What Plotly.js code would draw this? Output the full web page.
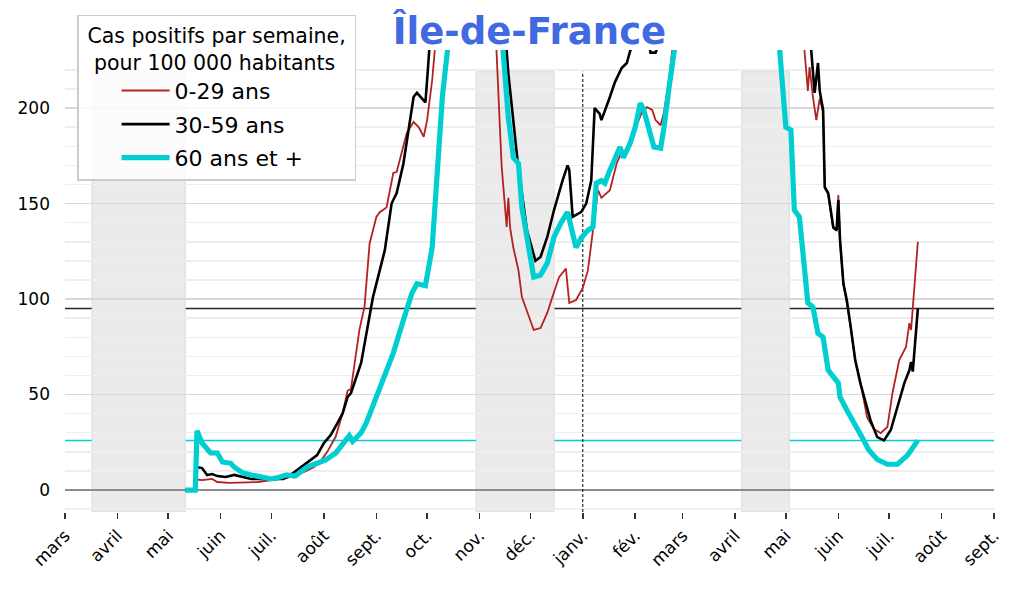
<!DOCTYPE html>
<html>
<head>
<meta charset="utf-8">
<script src="https://cdn.plot.ly/plotly-3.0.1.min.js"></script>
<style>html,body{margin:0;padding:0;background:#fff;}#chart{width:1023px;height:589px;}</style>
</head>
<body>
<div id="chart"></div>
<script>
// ---- Data (weekly positive cases per 100 000 inhabitants, Île-de-France) ----
const seriesNames = ['0-29 ans', '30-59 ans', '60 ans et +'];

const redDates = ['2020-05-11','2020-05-17','2020-05-18','2020-05-21','2020-05-27','2020-05-30','2020-06-06','2020-06-13','2020-06-23','2020-07-01','2020-07-10','2020-07-20','2020-07-26','2020-07-30','2020-08-03','2020-08-08','2020-08-12','2020-08-15','2020-08-17','2020-08-22','2020-08-25','2020-08-28','2020-09-01','2020-09-03','2020-09-07','2020-09-11','2020-09-13','2020-09-19','2020-09-23','2020-09-26','2020-09-29','2020-10-01','2020-10-04','2020-10-06','2020-10-12','2020-10-20','2020-10-27','2020-11-03','2020-11-08','2020-11-11','2020-11-14','2020-11-17','2020-11-18','2020-11-19','2020-11-21','2020-11-24','2020-11-26','2020-11-29','2020-12-03','2020-12-07','2020-12-11','2020-12-14','2020-12-18','2020-12-22','2020-12-24','2020-12-28','2021-01-01','2021-01-04','2021-01-06','2021-01-10','2021-01-12','2021-01-17','2021-01-21','2021-01-23','2021-01-27','2021-01-30','2021-02-02','2021-02-05','2021-02-08','2021-02-11','2021-02-13','2021-02-16','2021-02-18','2021-02-21','2021-02-24','2021-03-05','2021-03-15','2021-03-25','2021-04-01','2021-04-10','2021-04-20','2021-05-01','2021-05-08','2021-05-12','2021-05-14','2021-05-15','2021-05-17','2021-05-19','2021-05-21','2021-05-23','2021-05-24','2021-05-26','2021-05-29','2021-05-31','2021-06-01','2021-06-02','2021-06-04','2021-06-06','2021-06-08','2021-06-11','2021-06-14','2021-06-18','2021-06-22','2021-06-26','2021-06-30','2021-07-03','2021-07-07','2021-07-11','2021-07-13','2021-07-14','2021-07-18'];
const redValues = [0,0,5.5,5.2,5.8,4.2,3.7,3.8,4.2,5.2,6.3,9.4,12,15,20,28,40,52,53,84,96,129,143,145.5,148,166,166.5,187,192.7,190,185,193.7,214.7,235,330,520,690,520,330,230,170,137.7,153,137.7,126.7,115,101,94,83.8,84.8,92.7,101,111.5,116,98,99.5,105.8,115,129,157,153,157,171,175,178,185,192,198,200.5,199,193.7,191,198,215,240,330,450,620,720,600,420,300,260,230,209,221.5,205.8,193.7,205,198,158,155,137,136,154.5,130,108,98,87,68,57,38,32,29.8,33,50.8,68,74.9,87.4,83.8,130];

const blackDates = ['2020-05-11','2020-05-17','2020-05-18','2020-05-21','2020-05-24','2020-05-27','2020-05-30','2020-06-04','2020-06-09','2020-06-14','2020-06-19','2020-07-01','2020-07-08','2020-07-14','2020-07-20','2020-07-24','2020-07-28','2020-08-01','2020-08-05','2020-08-09','2020-08-12','2020-08-15','2020-08-17','2020-08-23','2020-08-27','2020-08-30','2020-09-03','2020-09-06','2020-09-10','2020-09-13','2020-09-17','2020-09-20','2020-09-23','2020-09-25','2020-09-30','2020-10-01','2020-10-03','2020-10-10','2020-10-20','2020-10-28','2020-11-05','2020-11-12','2020-11-18','2020-11-19','2020-11-23','2020-11-25','2020-11-29','2020-12-04','2020-12-07','2020-12-11','2020-12-15','2020-12-20','2020-12-23','2020-12-24','2020-12-26','2020-12-31','2021-01-03','2021-01-06','2021-01-08','2021-01-11','2021-01-12','2021-01-17','2021-01-20','2021-01-24','2021-01-27','2021-01-29','2021-02-03','2021-02-08','2021-02-10','2021-02-13','2021-02-16','2021-02-20','2021-03-01','2021-03-15','2021-03-28','2021-04-03','2021-04-12','2021-04-22','2021-05-05','2021-05-16','2021-05-18','2021-05-20','2021-05-21','2021-05-23','2021-05-24','2021-05-26','2021-05-29','2021-05-31','2021-06-01','2021-06-02','2021-06-04','2021-06-06','2021-06-08','2021-06-11','2021-06-14','2021-06-20','2021-06-24','2021-06-28','2021-07-02','2021-07-06','2021-07-10','2021-07-13','2021-07-14','2021-07-15','2021-07-18'];
const blackValues = [0,0,12,11.5,7.9,8.4,7.3,6.8,7.9,6.8,5.8,5.8,5.8,9,13,16,18.3,24.6,28.8,35,40,48.7,50.8,66.5,87,101,115,125.6,150,155.5,171,188,205.8,208,203,214.7,235,320,450,560,420,290,218,209,176,162,136,120,122,132.5,146.6,162,170,167.5,143,145.5,150,162,200,197,193.7,205.8,213.6,221,223.6,230,236,240,229,229,236,255,300,420,580,620,500,360,270,230,208,223.6,209,199,158.6,155.5,137.7,136,151.8,131,108,99.5,87.4,68,56,36.6,27.7,26,31.4,43.5,56,62.8,67,62,95];

const cyanDates = ['2020-05-11','2020-05-17','2020-05-18','2020-05-21','2020-05-26','2020-05-30','2020-06-02','2020-06-07','2020-06-09','2020-06-14','2020-06-19','2020-06-25','2020-07-01','2020-07-06','2020-07-10','2020-07-15','2020-07-18','2020-07-22','2020-07-28','2020-08-02','2020-08-08','2020-08-14','2020-08-16','2020-08-18','2020-08-21','2020-08-23','2020-08-26','2020-08-29','2020-09-03','2020-09-11','2020-09-17','2020-09-22','2020-09-25','2020-09-30','2020-10-04','2020-10-07','2020-10-10','2020-10-13','2020-10-20','2020-10-30','2020-11-06','2020-11-12','2020-11-15','2020-11-18','2020-11-21','2020-11-24','2020-11-26','2020-11-30','2020-12-03','2020-12-07','2020-12-11','2020-12-15','2020-12-19','2020-12-23','2020-12-26','2020-12-28','2020-12-31','2021-01-04','2021-01-07','2021-01-09','2021-01-12','2021-01-14','2021-01-17','2021-01-21','2021-01-23','2021-01-25','2021-01-29','2021-02-01','2021-02-04','2021-02-06','2021-02-09','2021-02-12','2021-02-16','2021-02-18','2021-02-21','2021-02-24','2021-03-05','2021-03-20','2021-04-02','2021-04-12','2021-04-22','2021-04-27','2021-05-01','2021-05-04','2021-05-06','2021-05-09','2021-05-12','2021-05-14','2021-05-17','2021-05-20','2021-05-23','2021-05-26','2021-06-01','2021-06-02','2021-06-06','2021-06-10','2021-06-15','2021-06-19','2021-06-24','2021-06-30','2021-07-06','2021-07-12','2021-07-15','2021-07-18'];
const cyanValues = [0,0,31,24.6,19.4,19.4,14.7,14,12,9,7.9,6.8,5.8,6.8,7.9,7.3,9,12,14,15.7,19.4,27,28.5,25.5,28,30,35,41.9,54,71.7,89,103,108,107,127,171,205.8,230,320,400,330,260,230,195,174,171,148,129,111.5,112.6,118.8,132.5,139.8,145.5,132.5,127,132,136,137.7,160.7,162,160.7,167.5,176,179.6,174,181.7,190,202.6,199,188.5,179.6,179,190,211,232,280,380,460,400,290,230,190,188.5,146.6,143,118.8,98,95.8,82,80,62.8,56,48.7,41.9,35,27.7,21,16,13.5,13.5,18.3,22.5,26];

// Lockdown periods (shaded) and reference date
const lockdownStarts = ['2020-03-17', '2020-10-30', '2021-04-05'];
const lockdownEnds   = ['2020-05-11', '2020-12-15', '2021-05-03'];
const newYearDate = '2021-01-01';

// Month ticks
const tickDates = ['2020-03-01','2020-04-01','2020-05-01','2020-06-01','2020-07-01','2020-08-01','2020-09-01','2020-10-01','2020-11-01','2020-12-01','2021-01-01','2021-02-01','2021-03-01','2021-04-01','2021-05-01','2021-06-01','2021-07-01','2021-08-01','2021-09-01'];
const tickLabels = ['mars','avril','mai','juin','juil.','août','sept.','oct.','nov.','déc.','janv.','fév.','mars','avril','mai','juin','juil.','août','sept.'];

// ---- Chart ----
const FONT = 'DejaVu Sans, sans-serif';
const colors = ['#b22222', '#000000', '#00ced1'];
const widths = [1.8, 2.6, 5.2];
const allDates = [redDates, blackDates, cyanDates];
const allValues = [redValues, blackValues, cyanValues];

const traces = allDates.map((d, i) => ({
  type: 'scatter', mode: 'lines',
  x: d, y: allValues[i],
  name: seriesNames[i],
  legendgroup: 'g' + i,
  line: {color: colors[i], width: widths[i]},
  hoverinfo: 'x+y+name'
}));

const shapes = [];
lockdownStarts.forEach((s, i) => {
  shapes.push({type: 'rect', xref: 'x', yref: 'y', x0: s, x1: lockdownEnds[i], y0: -11.5, y1: 219,
    fillcolor: '#ebebeb', line: {color: '#d9d9d9', width: 1}, layer: 'below'});
});
shapes.push({type: 'line', xref: 'x', yref: 'y', x0: newYearDate, x1: newYearDate, y0: -11.5, y1: 219,
  line: {color: '#000', width: 1, dash: '3px,2px'}, layer: 'between'});
const refColors = ['rgba(178,34,34,0.85)', 'rgba(0,0,0,0.85)', '#00ced1'];
allValues.forEach((v, i) => {
  const last = v[v.length - 1];
  shapes.push({type: 'line', xref: 'paper', yref: 'y', x0: 0, x1: 1, y0: last, y1: last,
    line: {color: refColors[i], width: 1.5}, layer: 'between'});
});

const layout = {
  width: 1023, height: 589,
  margin: {l: 65, r: 29, t: 50, b: 77},
  paper_bgcolor: '#fff', plot_bgcolor: '#fff',
  font: {family: FONT, color: '#000', size: 18},
  title: {text: '<b>Île-de-France</b>', font: {family: FONT, size: 37, color: '#4169e1'},
    x: 0.5, xref: 'paper', xanchor: 'center', y: 0.948, yref: 'container', yanchor: 'middle'},
  xaxis: {
    type: 'date', range: ['2020-03-01', '2021-09-01'],
    tickmode: 'array', tickvals: tickDates, ticktext: tickLabels,
    tickangle: -45, ticks: 'outside', ticklen: 6, tickwidth: 1.6, tickcolor: '#333',
    showgrid: false, zeroline: false, showline: false,
    tickfont: {family: FONT, size: 17, color: '#000'}
  },
  yaxis: {
    range: [-11.5, 230.4],
    tickmode: 'array', tickvals: [0, 50, 100, 150, 200],
    showgrid: true, gridcolor: '#d8d8d8', gridwidth: 1.5,
    minor: {dtick: 10, tick0: 0, showgrid: true, gridcolor: '#eeeeee', gridwidth: 1.5, ticks: ''},
    zeroline: true, zerolinecolor: '#8c8c8c', zerolinewidth: 2,
    showline: false, ticks: '', ticklabelstandoff: 14,
    tickfont: {family: FONT, size: 17, color: '#000'}
  },
  showlegend: true,
  legend: {
    x: 0.013, y: 1.076, xanchor: 'left', yanchor: 'top',
    bgcolor: 'rgba(255,255,255,0.85)', bordercolor: '#cccccc', borderwidth: 1.5,
    font: {family: FONT, size: 22, color: '#000'},
    title: {text: '\u00a0Cas positifs par semaine,\u00a0<br>\u00a0\u00a0pour 100 000 habitants', side: 'top center',
      font: {family: FONT, size: 20.5, color: '#000'}},
    traceorder: 'grouped', tracegroupgap: 2, itemwidth: 48, indentation: 38
  },
  shapes: shapes
};

Plotly.newPlot('chart', traces, layout, {displayModeBar: false, staticPlot: true});
</script>
</body>
</html>
